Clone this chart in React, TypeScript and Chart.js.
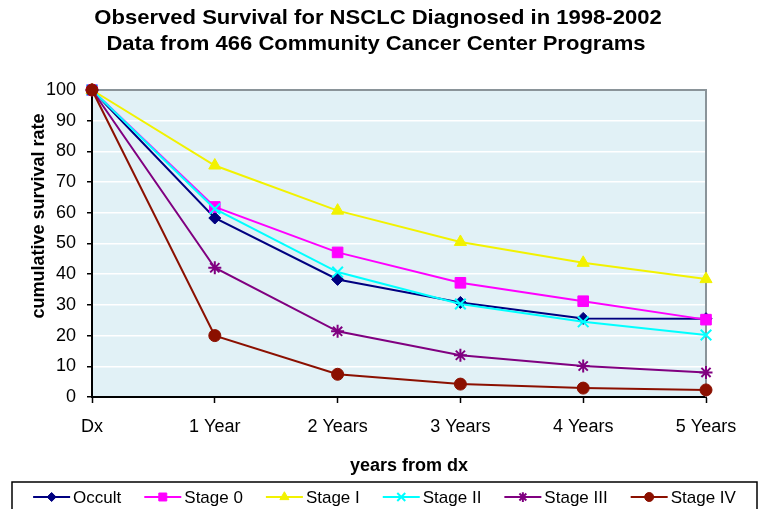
import React, { useEffect, useRef } from 'react';
import { Chart, registerables } from 'chart.js';
import { drawPoint } from 'chart.js/helpers';

Chart.register(...registerables);

const categories = ['Dx', '1 Year', '2 Years', '3 Years', '4 Years', '5 Years'];
const occult = [100, 58.3, 38.3, 30.8, 25.6, 25.5];
const stage0 = [100, 61.9, 47.1, 37.2, 31.2, 25.2];
const stageI = [100, 75.4, 60.7, 50.5, 43.7, 38.4];
const stageII = [100, 61.3, 40.7, 30.3, 24.5, 20.2];
const stageIII = [100, 42.1, 21.4, 13.6, 10.1, 8.0];
const stageIV = [100, 20.0, 7.4, 4.2, 2.9, 2.3];

const seriesNames = ['Occult', 'Stage 0', 'Stage I', 'Stage II', 'Stage III', 'Stage IV'];
const seriesValues = [occult, stage0, stageI, stageII, stageIII, stageIV];
const seriesColors = ['#000080', '#FF00FF', '#F2F200', '#00FFFF', '#800080', '#8B1000'];
const seriesMarkers = ['rectRot', 'rect', 'triangle', 'crossRot', 'star', 'circle'];
const markerRadius = [6, 7.5, 7, 7.5, 6.5, 6];

const yMin = 0;
const yMax = 100;
const yStep = 10;

const titleLines = [
  'Observed Survival for NSCLC Diagnosed in 1998-2002',
  'Data from 466 Community Cancer Center Programs',
];
const xTitle = 'years from dx';
const yTitle = 'cumulative survival rate';

const FONT = '"Liberation Sans", Arial, Helvetica, sans-serif';

const decorPlugin = {
  id: 'decor',
  beforeDraw(chart: any) {
    const { ctx, chartArea: a } = chart;
    ctx.save();
    ctx.fillStyle = '#ffffff';
    ctx.fillRect(0, 0, chart.width, chart.height);
    ctx.fillStyle = '#E1F1F6';
    ctx.fillRect(a.left, a.top, a.right - a.left, a.bottom - a.top);
    ctx.restore();
  },
  beforeDatasetsDraw(chart: any) {
    const { ctx, chartArea: a } = chart;
    ctx.save();
    ctx.strokeStyle = '#8A9499';
    ctx.lineWidth = 2;
    ctx.beginPath();
    ctx.moveTo(a.left, a.top);
    ctx.lineTo(a.right, a.top);
    ctx.lineTo(a.right, a.bottom);
    ctx.stroke();
    ctx.restore();
  },
  afterDraw(chart: any) {
    const { ctx } = chart;
    ctx.save();
    ctx.fillStyle = '#000';
    // Main title
    ctx.textAlign = 'center';
    ctx.textBaseline = 'middle';
    ctx.font = `bold 21px ${FONT}`;
    const sx = 1.05;
    ctx.save();
    ctx.translate(378, 18);
    ctx.scale(sx, 1);
    ctx.fillText(titleLines[0], 0, 0);
    ctx.restore();
    ctx.save();
    ctx.translate(376, 44);
    ctx.scale(sx, 1);
    ctx.fillText(titleLines[1], 0, 0);
    ctx.restore();

    // Axis titles
    ctx.font = `bold 18px ${FONT}`;
    ctx.fillText(xTitle, 409, 466);
    ctx.save();
    ctx.translate(39, 216);
    ctx.rotate(-Math.PI / 2);
    ctx.fillText(yTitle, 0, 0);
    ctx.restore();

    // Legend box
    const boxL = 12, boxR = 757, boxT = 482, boxB = 515;
    ctx.strokeStyle = '#000';
    ctx.lineWidth = 1.5;
    ctx.strokeRect(boxL, boxT, boxR - boxL, boxB - boxT);

    ctx.font = `17px ${FONT}`;
    const lineLen = 37;
    const gapText = 3;
    const gapItem = 23;
    const widths = seriesNames.map((n) => ctx.measureText(n).width);
    const total = widths.reduce((s, w) => s + lineLen + gapText + w, 0) + gapItem * (seriesNames.length - 1);
    let x = (boxL + boxR) / 2 - total / 2;
    const cy = 497;
    chart.data.datasets.forEach((ds: any, i: number) => {
      ctx.strokeStyle = ds.borderColor;
      ctx.lineWidth = 2;
      ctx.beginPath();
      ctx.moveTo(x, cy);
      ctx.lineTo(x + lineLen, cy);
      ctx.stroke();
      ctx.fillStyle = ds.pointBackgroundColor;
      ctx.strokeStyle = ds.pointBorderColor;
      ctx.lineWidth = ds.pointBorderWidth;
      drawPoint(ctx, { pointStyle: ds.pointStyle, radius: ds.pointRadius * 0.75, rotation: 0, borderWidth: ds.pointBorderWidth }, x + lineLen / 2, cy);
      ctx.fillStyle = '#000';
      ctx.textAlign = 'left';
      ctx.textBaseline = 'middle';
      ctx.fillText(ds.label, x + lineLen + gapText, cy + 1);
      x += lineLen + gapText + widths[i] + gapItem;
    });
    ctx.restore();
  },
};

export default function App() {
  const canvasRef = useRef<HTMLCanvasElement | null>(null);

  useEffect(() => {
    document.body.style.margin = '0';
    const canvas = canvasRef.current;
    if (!canvas) return;
    const datasets = seriesNames.map((name, i) => {
      const isCross = seriesMarkers[i] === 'crossRot' || seriesMarkers[i] === 'star';
      return {
        label: name,
        data: seriesValues[i],
        borderColor: seriesColors[i],
        backgroundColor: seriesColors[i],
        pointBackgroundColor: seriesColors[i],
        pointBorderColor: seriesColors[i],
        pointBorderWidth: isCross ? 2 : 1,
        pointStyle: seriesMarkers[i],
        pointRadius: markerRadius[i],
        borderWidth: 2,
        tension: 0,
        fill: false,
        clip: false as any,
        order: seriesNames.length - i,
      };
    });

    const chart = new Chart(canvas, {
      type: 'line',
      data: { labels: categories, datasets },
      options: {
        responsive: false,
        animation: false,
        devicePixelRatio: 1,
        layout: { padding: { top: 90, right: 54, bottom: 0, left: 0 } },
        plugins: {
          legend: { display: false },
          title: { display: false },
          tooltip: { enabled: false },
        },
        scales: {
          x: {
            type: 'category',
            offset: false,
            afterFit: (s: any) => {
              s.height = 112;
            },
            grid: {
              display: true,
              drawOnChartArea: false,
              offset: false,
              tickColor: '#000',
              tickLength: 6,
              tickWidth: 1.5,
            },
            border: { display: true, color: '#000', width: 2 },
            ticks: {
              color: '#000',
              font: { family: FONT, size: 18 },
              padding: 13,
              maxRotation: 0,
              autoSkip: false,
            },
          },
          y: {
            type: 'linear',
            min: yMin,
            max: yMax,
            afterFit: (s: any) => {
              s.width = 92;
            },
            grid: {
              color: '#ffffff',
              lineWidth: 1.5,
              tickColor: '#000',
              tickLength: 5,
              tickWidth: 1.5,
            },
            border: { display: true, color: '#000', width: 2 },
            ticks: {
              stepSize: yStep,
              color: '#000',
              font: { family: FONT, size: 18 },
              padding: 11,
            },
          },
        },
      },
      plugins: [decorPlugin],
    });
    return () => chart.destroy();
  }, []);

  return (
    <div style={{ width: 760, height: 509 }}>
      <canvas ref={canvasRef} width={760} height={509} style={{ display: 'block' }} />
    </div>
  );
}
